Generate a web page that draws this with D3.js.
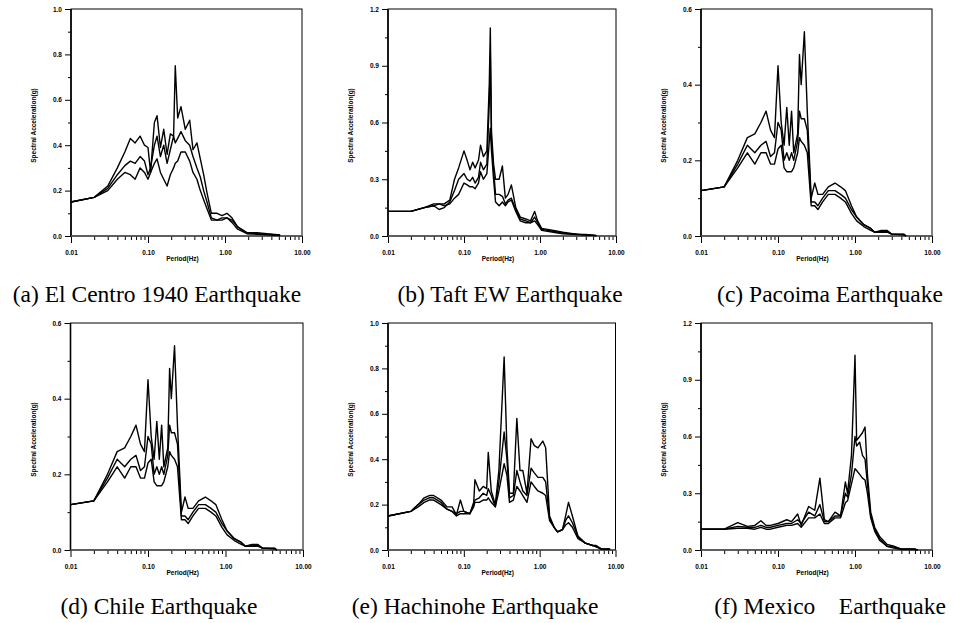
<!DOCTYPE html>
<html>
<head>
<meta charset="utf-8">
<script src="https://cdn.jsdelivr.net/npm/d3@7"></script>
<style>
  html, body { margin: 0; padding: 0; background: #fff; }
  svg { display: block; }
  .tick text { font-family: "Liberation Sans", Arial, sans-serif; font-weight: bold; font-size: 6.5px; fill: #000; }
  .axlabel { font-family: "Liberation Sans", Arial, sans-serif; font-weight: bold; font-size: 6.5px; fill: #000; }
  .caption { font-family: "Liberation Serif", "Times New Roman", serif; font-size: 23.5px; fill: #000; }
</style>
</head>
<body>
<svg id="chart" width="955" height="623"></svg>
<script>
// ---------------- DATA ----------------
const captions = [
  "(a) El Centro 1940 Earthquake",
  "(b) Taft EW Earthquake",
  "(c) Pacoima Earthquake",
  "(d) Chile Earthquake",
  "(e) Hachinohe Earthquake",
  "(f) Mexico    Earthquake"
];
const xTickValues = [0.01, 0.1, 1, 10];
const xTickLabels = ["0.01", "0.10", "1.00", "10.00"];
const yAxisTitle = "Spectral Acceleration(g)";
const xAxisTitle = "Period(Hz)";
const yMaxes = [1.0, 1.2, 0.6, 0.6, 1.0, 1.2];
const yMajorSteps = [0.2, 0.3, 0.2, 0.2, 0.2, 0.3];

// (a) El Centro
const periodsA = [0.01,0.02,0.03,0.04,0.05,0.059,0.068,0.079,0.09,0.1,0.108,0.121,0.131,0.145,0.16,0.177,0.195,0.215,0.226,0.243,0.268,0.305,0.348,0.384,0.432,0.478,0.528,0.584,0.665,0.788,0.914,1.06,1.23,1.46,1.93,2.6,3.5,5.2];
const a1 = [0.15,0.17,0.22,0.30,0.37,0.43,0.41,0.44,0.40,0.39,0.28,0.50,0.53,0.39,0.47,0.36,0.45,0.44,0.75,0.52,0.57,0.47,0.51,0.38,0.41,0.34,0.27,0.19,0.10,0.10,0.09,0.10,0.08,0.04,0.015,0.015,0.01,0.005];
const a2 = [0.15,0.17,0.21,0.27,0.31,0.33,0.32,0.35,0.33,0.27,0.30,0.40,0.44,0.35,0.40,0.32,0.38,0.44,0.41,0.43,0.46,0.42,0.40,0.35,0.30,0.26,0.20,0.15,0.08,0.07,0.08,0.08,0.07,0.04,0.012,0.01,0.008,0.003];
const a3 = [0.15,0.17,0.20,0.25,0.28,0.27,0.25,0.30,0.28,0.25,0.28,0.32,0.34,0.28,0.25,0.22,0.27,0.30,0.32,0.33,0.37,0.37,0.33,0.28,0.25,0.20,0.16,0.12,0.07,0.07,0.07,0.08,0.06,0.03,0.01,0.008,0.005,0.002];

// (b) Taft EW
const periodsB = [0.01,0.02,0.03,0.04,0.047,0.055,0.065,0.075,0.085,0.1,0.11,0.12,0.13,0.14,0.155,0.165,0.18,0.2,0.215,0.222,0.23,0.245,0.26,0.29,0.32,0.35,0.38,0.42,0.48,0.55,0.65,0.75,0.85,0.93,1.05,1.5,2,3,4,5.5];
const b1 = [0.13,0.13,0.15,0.16,0.17,0.17,0.19,0.30,0.36,0.45,0.40,0.35,0.39,0.36,0.40,0.48,0.42,0.45,0.80,1.10,0.55,0.38,0.30,0.30,0.37,0.20,0.22,0.27,0.15,0.10,0.09,0.08,0.13,0.08,0.04,0.03,0.02,0.01,0.008,0.003];
const b2 = [0.13,0.13,0.15,0.16,0.14,0.15,0.18,0.24,0.30,0.33,0.30,0.29,0.31,0.28,0.31,0.39,0.35,0.38,0.70,0.95,0.50,0.35,0.22,0.22,0.21,0.17,0.19,0.20,0.14,0.09,0.08,0.07,0.10,0.07,0.035,0.025,0.015,0.01,0.006,0.002];
const b3 = [0.13,0.13,0.15,0.17,0.17,0.16,0.17,0.20,0.22,0.28,0.27,0.26,0.26,0.25,0.28,0.34,0.30,0.33,0.50,0.57,0.45,0.30,0.18,0.16,0.18,0.16,0.18,0.19,0.13,0.08,0.07,0.07,0.08,0.06,0.03,0.02,0.012,0.008,0.005,0.002];

// (c) Pacoima
const periodsC = [0.01,0.02,0.03,0.04,0.05,0.06,0.07,0.08,0.09,0.1,0.11,0.12,0.13,0.14,0.15,0.16,0.18,0.19,0.2,0.22,0.24,0.27,0.30,0.33,0.38,0.45,0.55,0.65,0.75,0.9,1.05,1.3,1.6,1.8,2.2,2.6,3.0,4.3,4.6];
const c1 = [0.12,0.13,0.20,0.26,0.27,0.30,0.33,0.28,0.26,0.45,0.30,0.24,0.34,0.24,0.33,0.22,0.27,0.48,0.40,0.54,0.33,0.10,0.14,0.11,0.11,0.13,0.14,0.13,0.12,0.08,0.05,0.03,0.02,0.01,0.015,0.015,0.005,0.005,0];
const c2 = [0.12,0.13,0.19,0.24,0.22,0.24,0.25,0.21,0.22,0.30,0.28,0.20,0.22,0.20,0.22,0.20,0.25,0.33,0.31,0.31,0.28,0.09,0.09,0.08,0.10,0.12,0.12,0.11,0.10,0.07,0.05,0.03,0.02,0.01,0.012,0.012,0.005,0.004,0];
const c3 = [0.12,0.13,0.18,0.22,0.19,0.22,0.22,0.19,0.19,0.23,0.24,0.18,0.17,0.17,0.17,0.18,0.22,0.26,0.25,0.24,0.22,0.08,0.08,0.07,0.09,0.11,0.11,0.10,0.09,0.06,0.04,0.025,0.015,0.01,0.01,0.01,0.005,0.003,0];

// (d) Chile
const periodsD = [0.01,0.02,0.03,0.04,0.05,0.06,0.07,0.08,0.09,0.1,0.11,0.12,0.13,0.14,0.15,0.16,0.18,0.19,0.2,0.22,0.24,0.27,0.30,0.33,0.38,0.45,0.55,0.65,0.75,0.9,1.05,1.3,1.6,1.8,2.2,2.6,3.0,4.3,4.6];
const d1 = [0.12,0.13,0.20,0.26,0.27,0.30,0.33,0.28,0.26,0.45,0.30,0.24,0.34,0.24,0.33,0.22,0.27,0.48,0.40,0.54,0.33,0.10,0.14,0.11,0.11,0.13,0.14,0.13,0.12,0.08,0.05,0.03,0.02,0.01,0.015,0.015,0.005,0.005,0];
const d2 = [0.12,0.13,0.19,0.24,0.22,0.24,0.25,0.21,0.22,0.30,0.28,0.20,0.22,0.20,0.22,0.20,0.25,0.33,0.31,0.31,0.28,0.09,0.09,0.08,0.10,0.12,0.12,0.11,0.10,0.07,0.05,0.03,0.02,0.01,0.012,0.012,0.005,0.004,0];
const d3s = [0.12,0.13,0.18,0.22,0.19,0.22,0.22,0.19,0.19,0.23,0.24,0.18,0.17,0.17,0.17,0.18,0.22,0.26,0.25,0.24,0.22,0.08,0.08,0.07,0.09,0.11,0.11,0.10,0.09,0.06,0.04,0.025,0.015,0.01,0.01,0.01,0.005,0.003,0];

// (e) Hachinohe
const periodsE = [0.01,0.02,0.025,0.03,0.035,0.04,0.05,0.06,0.07,0.08,0.09,0.1,0.12,0.135,0.14,0.16,0.18,0.2,0.21,0.23,0.26,0.29,0.34,0.37,0.4,0.45,0.5,0.55,0.6,0.68,0.77,0.85,0.95,1.1,1.2,1.35,1.55,1.72,2.0,2.2,2.4,2.7,3.2,4,5,5.5,6.5,8.5];
const e1 = [0.15,0.17,0.20,0.23,0.24,0.24,0.22,0.19,0.19,0.155,0.22,0.17,0.16,0.21,0.31,0.26,0.28,0.27,0.43,0.26,0.20,0.35,0.85,0.45,0.25,0.25,0.58,0.35,0.35,0.25,0.49,0.46,0.45,0.48,0.45,0.15,0.10,0.08,0.09,0.15,0.21,0.15,0.06,0.03,0.02,0.02,0.005,0.005];
const e2 = [0.15,0.17,0.20,0.22,0.23,0.23,0.21,0.18,0.17,0.16,0.17,0.17,0.16,0.20,0.22,0.23,0.25,0.24,0.27,0.24,0.19,0.30,0.52,0.40,0.23,0.24,0.35,0.30,0.26,0.24,0.36,0.34,0.32,0.32,0.30,0.14,0.10,0.08,0.09,0.13,0.15,0.12,0.06,0.03,0.02,0.015,0.005,0.003];
const e3 = [0.15,0.17,0.19,0.21,0.22,0.22,0.20,0.18,0.17,0.15,0.16,0.16,0.16,0.19,0.21,0.21,0.22,0.22,0.23,0.21,0.19,0.26,0.38,0.33,0.21,0.22,0.28,0.26,0.24,0.21,0.30,0.28,0.26,0.25,0.24,0.13,0.10,0.08,0.09,0.11,0.12,0.10,0.05,0.03,0.02,0.015,0.004,0.002];

// (f) Mexico
const periodsF = [0.01,0.02,0.03,0.04,0.05,0.06,0.07,0.08,0.1,0.13,0.15,0.18,0.2,0.25,0.3,0.35,0.4,0.45,0.55,0.65,0.75,0.8,0.9,1.0,1.05,1.15,1.25,1.35,1.45,1.6,1.8,2.1,2.6,3.2,4,6,6.5];
const f1 = [0.11,0.11,0.145,0.125,0.13,0.155,0.13,0.13,0.14,0.16,0.15,0.19,0.13,0.23,0.21,0.38,0.16,0.15,0.20,0.18,0.36,0.30,0.50,1.03,0.58,0.60,0.62,0.65,0.40,0.20,0.12,0.07,0.03,0.02,0.005,0.005,0];
const f2 = [0.11,0.11,0.125,0.12,0.12,0.13,0.12,0.12,0.13,0.14,0.14,0.16,0.14,0.20,0.18,0.24,0.15,0.15,0.18,0.18,0.30,0.28,0.40,0.60,0.55,0.57,0.50,0.48,0.35,0.18,0.11,0.06,0.02,0.015,0.004,0.004,0];
const f3 = [0.11,0.11,0.115,0.115,0.11,0.12,0.11,0.11,0.12,0.13,0.13,0.14,0.12,0.17,0.17,0.19,0.14,0.14,0.17,0.17,0.25,0.26,0.35,0.43,0.42,0.40,0.38,0.37,0.30,0.17,0.10,0.05,0.02,0.01,0.003,0.003,0];

const panelPeriods = [periodsA, periodsB, periodsC, periodsD, periodsE, periodsF];
const panelSeries = [[a1,a2,a3],[b1,b2,b3],[c1,c2,c3],[d1,d2,d3s],[e1,e2,e3],[f1,f2,f3]];

// ---------------- LAYOUT ----------------
const frames = [
  {l:71,  r:302,   t:9,   b:236, cx:157, cy:302},
  {l:388, r:616,   t:9,   b:236, cx:510, cy:302},
  {l:701, r:932,   t:9,   b:236, cx:830, cy:302},
  {l:70.5,r:303,   t:323, b:550, cx:159, cy:614},
  {l:388, r:615.5, t:323, b:550, cx:475, cy:614},
  {l:701, r:932,   t:323, b:550, cx:830, cy:614}
];

const svg = d3.select("#chart");

frames.forEach((fr, i) => {
  const g = svg.append("g");
  const x = d3.scaleLog().domain([0.01, 10]).range([fr.l, fr.r]);
  const y = d3.scaleLinear().domain([0, yMaxes[i]]).range([fr.b, fr.t]);

  // minor x ticks
  const minorX = [];
  [0.01, 0.1, 1].forEach(dec => { for (let k = 2; k <= 9; k++) minorX.push(dec * k); });
  const xMinorAxis = d3.axisBottom(x).tickValues(minorX).tickSize(4).tickFormat("");
  g.append("g").attr("transform", `translate(0,${fr.b})`).call(xMinorAxis)
    .call(s => s.select(".domain").remove());
  const xAxis = d3.axisBottom(x).tickValues(xTickValues).tickSize(7).tickPadding(7)
    .tickFormat((d, j) => xTickLabels[j]);
  g.append("g").attr("transform", `translate(0,${fr.b})`).call(xAxis)
    .call(s => s.select(".domain").remove());

  // y ticks
  const step = yMajorSteps[i];
  const nMaj = Math.round(yMaxes[i] / step);
  const majors = d3.range(nMaj + 1).map(k => +(k * step).toFixed(3));
  const minors = d3.range(nMaj).map(k => +((k + 0.5) * step).toFixed(3));
  g.append("g").attr("transform", `translate(${fr.l},0)`)
    .call(d3.axisLeft(y).tickValues(minors).tickSize(3).tickFormat(""))
    .call(s => s.select(".domain").remove());
  g.append("g").attr("transform", `translate(${fr.l},0)`)
    .call(d3.axisLeft(y).tickValues(majors).tickSize(6).tickPadding(3).tickFormat(d3.format(".1f")))
    .call(s => s.select(".domain").remove());

  g.selectAll(".tick line").attr("stroke", "#000").attr("stroke-width", 1);

  // frame
  g.append("rect").attr("x", fr.l).attr("y", fr.t)
    .attr("width", fr.r - fr.l).attr("height", fr.b - fr.t)
    .attr("fill", "none").attr("stroke", "#000").attr("stroke-width", 1);
  g.append("line").attr("x1", fr.l).attr("x2", fr.l).attr("y1", fr.t).attr("y2", fr.b)
    .attr("stroke", "#000").attr("stroke-width", 1.6);
  g.append("line").attr("x1", fr.l).attr("x2", fr.r).attr("y1", fr.b).attr("y2", fr.b)
    .attr("stroke", "#555").attr("stroke-width", 1.6);

  // lines
  const periods = panelPeriods[i];
  const line = d3.line().x((d, j) => x(periods[j])).y(d => y(d));
  panelSeries[i].forEach(vals => {
    g.append("path").datum(vals).attr("d", line)
      .attr("fill", "none").attr("stroke", "#000").attr("stroke-width", 1.4)
      .attr("stroke-linejoin", "round");
  });

  // axis titles
  g.append("text").attr("class", "axlabel")
    .attr("x", (fr.l + fr.r) / 2 - 4).attr("y", fr.b + 24.5)
    .attr("text-anchor", "middle").text(xAxisTitle);
  g.append("text").attr("class", "axlabel")
    .attr("transform", `translate(${fr.l - 35},${(fr.t + fr.b) / 2 + 3}) rotate(-90)`)
    .attr("text-anchor", "middle").text(yAxisTitle);

  // caption
  svg.append("text").attr("class", "caption")
    .attr("x", fr.cx).attr("y", fr.cy).attr("text-anchor", "middle")
    .attr("xml:space", "preserve").style("white-space", "pre")
    .text(captions[i]);
});
</script>
</body>
</html>
